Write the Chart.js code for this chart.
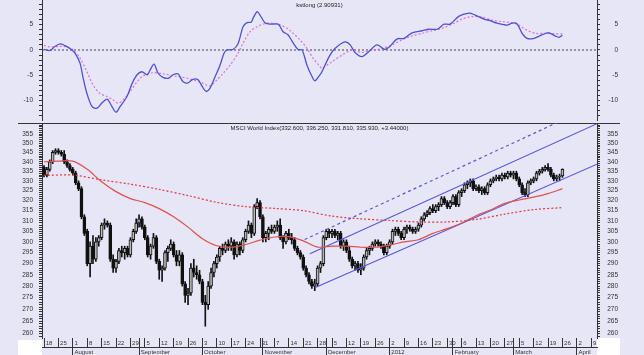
<!DOCTYPE html>
<html>
<head>
<meta charset="utf-8">
<script src="https://cdn.jsdelivr.net/npm/chart.js@4.4.1/dist/chart.umd.min.js"></script>
<style>
  body { margin: 0; background: #e6e6f7; }
  #wrap { position: relative; width: 644px; height: 355px; overflow: hidden; background: #e6e6f7; }
  canvas { position: absolute; left: 0; }
  #sep { position: absolute; left: 18px; top: 123px; width: 602px; height: 0; border-top: 1px solid #333; }
  .wb { position: absolute; background: #fff; }
</style>
</head>
<body>
<div id="wrap">
  <div class="wb" style="left:18px;top:340px;width:24px;height:15px"></div>
  <div class="wb" style="left:597px;top:338px;width:23px;height:17px"></div>
  <div id="sep"></div>
  <canvas id="kst" width="644" height="121" style="top:0"></canvas>
  <canvas id="price" width="644" height="234" style="top:121px"></canvas>
</div>
<script>
// titles
const kstTitle = 'kstlong (2.90931)';
const priceTitle = 'MSCI World Index(332.600, 336.250, 331.810, 335.930, +3.44000)';

// daily candles, index 0 = Mon 18 Jul 2011
const opens = [337,333,336,340,345,346,345,344,340,338, 336,334,329,326,312,305,290,298,292,300,
  302,308,309,308,292,288,291,296,295,297, 294,301,305,309,311,307,302,294,298,302,
  291,287,288,295,297,299,294,291,294,281, 276,277,288,286,285,282,273,272,280,286,
  290,293,297,296,299,298,300,294,299,296, 301,305,308,304,317,319,312,302,304,306,
  305,307,308,302,300,304,302,301,297,295, 293,288,285,282,280,281,288,290,302,305,
  304,305,303,304,298,300,296,292,289,290, 287,288,293,296,297,299,300,299,298,295,
  298,300,305,306,304,302,306,307,306,305, 306,308,311,313,314,316,315,317,318,321,
  319,317,319,322,318,324,325,328,329,330, 326,327,325,326,324,328,330,331,332,331,
  333,332,334,333,334,331,328,324,323,329, 330,331,334,335,336,337,336,333,331,332,
  332.6];
const highs = [338,337,341,346,347,347,346,346,341,339, 337,335,330,327,313,306,300,303,302,303,
  309,311,310,309,294,292,297,298,298,298, 302,306,311,313,312,308,303,299,304,303,
  292,289,296,298,301,300,296,296,295,282, 279,290,292,289,287,283,276,282,288,291,
  294,298,299,300,301,302,301,300,300,302, 306,310,309,318,321,320,313,305,307,308,
  308,310,311,303,305,306,304,302,298,296, 294,289,286,283,283,289,291,303,306,306,
  306,306,305,305,301,301,298,293,291,291, 290,294,297,298,300,301,301,300,299,299,
  301,306,307,307,305,307,308,308,307,307, 309,312,314,315,317,318,318,319,322,322,
  320,320,323,323,325,326,329,330,331,331, 328,328,327,327,329,331,332,333,333,334,
  334,335,335,335,335,332,329,326,330,331, 332,335,336,337,338,339,337,334,333,333.5,
  336.25];
const lows = [332,332,335,339,344,344,343,339,337,335, 333,328,325,311,303,289,284,290,291,298,
  301,306,307,291,286,286,290,293,292,293, 293,300,304,307,306,301,293,292,297,290,
  283,282,287,291,296,293,289,289,280,273, 272,276,284,283,281,272,263,270,279,284,
  288,291,294,295,296,296,292,293,294,295, 300,304,302,303,316,311,300,300,301,304,
  304,305,301,297,299,301,299,296,294,292, 287,284,281,279,278,280,286,289,301,302,
  302,302,301,297,296,295,291,288,287,286, 285,287,292,294,296,298,298,297,294,294,
  297,299,303,303,301,301,304,305,304,304, 305,307,310,312,313,314,314,315,317,318,
  316,316,318,317,317,322,324,326,327,325, 325,324,323,323,323,327,329,330,330,330,
  331,331,332,331,330,327,323,322,322,328, 329,330,333,334,335,335,332,330,330,330,
  331.81];
const closes = [333,336,340,345,346,345,344,340,338,336, 334,329,326,312,304,290,298,292,300,302,
  308,309,308,292,288,291,296,295,297,294, 301,305,309,311,307,302,294,298,302,291,
  287,288,295,297,299,294,291,294,281,276, 277,288,286,285,282,273,272,280,286,290,
  293,297,296,299,298,300,294,299,296,301, 305,308,304,317,319,312,302,304,306,305,
  307,308,302,300,304,302,301,297,295,293, 288,285,282,280,281,288,290,302,305,304,
  305,303,304,298,300,296,292,289,290,287, 288,293,296,297,299,300,299,298,295,298,
  300,305,306,304,302,306,307,306,305,306, 308,311,313,314,316,315,317,318,321,319,
  317,319,322,318,324,325,328,329,330,326, 327,325,326,324,328,330,331,332,331,333,
  332,334,333,334,331,328,324,323,329,330, 331,334,335,336,337,336,333,331,332,332.5,
  335.93];

// moving averages (day index, value)
const fastMaDay = [0,5,10,15,20,25,30,35,40,45,50,55,60,65,70,75,80,85,90,95,100,105,110,115,120,125,130,135,140,145,150,155,160,165,170,175,180];
const fastMa = [340,340.3,340.3,336,329.5,324.5,321,319,316,312,307,301.5,298.2,297.5,298.8,300.8,302.3,302.5,300.5,297.6,298,298,297.5,297.5,298.5,300,301,304,306.3,309,312.5,315.3,318.6,320.3,321.7,323.5,326];
const slowMaDay = [0,10,20,30,40,50,60,70,80,90,100,110,120,130,140,150,160,170,180];
const slowMa = [332.8,333,330.5,328.3,325.6,322.5,319.1,317,316.1,315,312.3,311,310.2,309.5,309.5,310.7,313.3,315.5,316.5];

// trend channel end points (day index, value)
const chanLowDay = [94, 192], chanLow = [279.3, 338.7];
const chanUpDay = [92.3, 192], chanUp = [294.5, 360.8];
const chanOutDay = [90.5, 192], chanOut = [301.1, 372.0];

// kst oscillator and its signal line
const kstDay = [0,2.1,3.8,5.6,7.3,9,10.8,12.5,13.5,14.9,16.7,18.4,20.1,21.9,23.6,25,26.4,28.8,30.6,32.3,
  34,35.8,36.8,38.2,39.6,41.3,43.1,44.8,46.5,48.3,50,51.7,53.5,54.9,56.3,57.6,59.4,61.1,62.5,63.5,
  65.6,67.4,69.1,70.5,71.9,72.6,74,75,76.7,78.5,81.3,83,84.7,86.5,88.2,89.6,91.3,93.1,94.1,95.8,
  96.5,99,101,104.5,106.3,108,110.4,112.8,115.6,118.4,120.1,122.6,125,127.8,131.3,133.7,136.5,138.9,141,144.1,
  147.6,149.7,152.8,154.9,157.3,160.8,162.5,164.2,166,167.7,170.1,172.9,175.3,177.4,178.8,180];
const kst = [0.1,-0.1,0.7,1.2,0.85,0.3,-0.65,-2.6,-5.3,-8.6,-11.2,-11.5,-10.5,-9.7,-11.2,-12.3,-11.2,-9.2,-6.6,-4.9,
  -4.3,-4.9,-4,-2.8,-4.6,-5.4,-5.6,-4.9,-4.7,-6.3,-6.5,-5.8,-5.9,-7.2,-8.2,-7.6,-5.3,-3,-0.65,0,
  0.1,1.3,4.6,5.4,5.5,6.3,7.6,6.9,5.4,5.1,5.1,3.6,3,1.4,0.1,0,-3,-5.3,-6.1,-4.9,
  -4.3,-1.3,0.3,1.6,1,-0.5,-1.3,-0.3,1,0.1,0.7,2.2,2.3,3.4,3.8,4.1,4.1,5.1,5.1,6.7,
  7.3,6.9,6.1,5.8,5.3,4.9,5.3,5.2,3.3,2.3,2.3,3,3.4,2.8,2.5,2.91];
const sigDay = [0,2.1,5.6,8,10.1,12.5,14.9,17,19.4,21.9,24,25.7,27.4,29.9,32.3,34.4,37.8,41.3,44.8,48.3,
  51.7,55.2,57.6,60.1,62.2,64.6,67,69.1,71.5,74,76,78.5,81.3,84.4,86.5,88.9,91.3,93.4,95.8,96.5,
  100,103.5,106.9,110.4,113.9,117.4,120.8,124.3,127.8,131.3,134.7,138.2,141.7,145.1,148.6,152.1,155.6,159,162.5,164.9,
  167,170.5,174,177.4,180];
const sig = [0.9,0.6,0.7,0.6,0,-1.6,-4.3,-6.9,-8.6,-9.2,-9.9,-10.5,-9.9,-8.2,-6.3,-5.1,-4.5,-4.7,-5.1,-5.4,
  -5.9,-6.6,-7.1,-5.9,-4.6,-3,-1,1.3,3.6,4.6,5.1,5.3,5.1,4.3,3.3,2,0.3,-1.6,-3.3,-3.6,
  -2.3,-1,0,-0.5,0,0.3,1,2,2.8,3.3,3.8,4.3,5.1,6.1,6.6,6.5,5.9,5.6,5.4,4.9,
  4.1,3.3,3.3,3.2,3.2];

// axis labels
const kstLabels = [-10, -5, 0, 5];
const pxLabels = [260,265,270,275,280,285,290,295,300,305,310,315,320,325,330,335,340,345,350,355];
const weekLabels = ['18','25','1','8','15','22','29','5','12','19','26','3','10','17','24','31','7','14','21','28',
  '5','12','19','26','2','9','16','23','30','6','13','20','27','5','12','19','26','2','9'];
const monthStart = [10,33,55,76,98,120,142,163,185];
const monthNames = ['August','September','October','November','December','2012','February','March','April'];

const X_MIN = -0.7, X_MAX = 192;
const KST_MIN = -13.84, KST_MAX = 9.88;
const PX_MIN = 258.2, PX_MAX = 361.2;

const FONT = 'Liberation Sans, Arial, sans-serif';
const INK = '#333';

const pts = (xs, ys) => xs.map((x, k) => ({x: x, y: ys[k]}));

const noPad = s => { s.paddingTop = 0; s.paddingBottom = 0; s.paddingLeft = 0; s.paddingRight = 0; };

function yAxis(pos, type, min, max, values, labels) {
  return {
    type: type, position: pos, min: min, max: max, bounds: 'data',
    border: { display: true, color: INK, width: 1 },
    grid: { drawOnChartArea: false, tickLength: 3, tickColor: INK },
    ticks: {
      autoSkip: false, padding: 6, color: INK,
      font: { family: FONT, size: 6.5, lineHeight: 1 },
      crossAlign: pos === 'right' ? 'far' : 'near',
      callback: v => (labels.includes(v) ? String(v) : '')
    },
    afterBuildTicks: s => { s.ticks = values.map(v => ({ value: v })); },
    afterFit: s => { s.width = pos === 'left' ? 42 : 21; noPad(s); }
  };
}

const kstTicks = [];
for (let v = -13; v <= 9; v++) kstTicks.push(v);
const pxTicks = [];
for (let v = 259; v <= 361; v++) pxTicks.push(v);

const weekIdx = weekLabels.map((_, k) => k * 5);
const dayLabel = new Map(weekIdx.map((v, k) => [v, ' ' + weekLabels[k]]));
const dayTicks = Array.from(new Set(weekIdx.concat(monthStart))).sort((a, b) => a - b);
const monthLabel = new Map(monthStart.map((v, k) => [v, ' ' + monthNames[k]]));

const panelTitle = {
  id: 'panelTitle',
  afterDraw(chart, args, opts) {
    const { ctx, chartArea } = chart;
    ctx.save();
    ctx.font = '6px ' + FONT;
    ctx.fillStyle = '#222';
    ctx.textAlign = 'center';
    ctx.textBaseline = 'middle';
    ctx.fillText(opts.text, (chartArea.left + chartArea.right) / 2, chartArea.top + opts.dy);
    ctx.restore();
  }
};

const base = {
  responsive: false, animation: false, devicePixelRatio: 1,
  events: []
};

// upper panel: kst
new Chart(document.getElementById('kst'), {
  type: 'line',
  plugins: [panelTitle],
  data: {
    datasets: [
      { data: pts(kstDay, kst), borderColor: '#5050d2', borderWidth: 1.3, pointRadius: 0, tension: 0.3, order: 1 },
      { data: pts(sigDay, sig), borderColor: '#dc6ce0', borderWidth: 1.2, borderDash: [2, 2], pointRadius: 0, tension: 0.3, order: 2 },
      { data: pts([X_MIN, X_MAX], [0, 0]), borderColor: '#444', borderWidth: 1, borderDash: [2, 2], pointRadius: 0, order: 3 }
    ]
  },
  options: Object.assign({}, base, {
    layout: { padding: { left: 0, right: 26, top: 0, bottom: 1 } },
    plugins: { legend: { display: false }, tooltip: { enabled: false }, panelTitle: { text: kstTitle, dy: 5.5 } },
    scales: {
      x: { type: 'linear', display: false, min: X_MIN, max: X_MAX, bounds: 'data' },
      y: yAxis('left', 'linear', KST_MIN, KST_MAX, kstTicks, kstLabels),
      y2: yAxis('right', 'linear', KST_MIN, KST_MAX, kstTicks, kstLabels)
    }
  })
});

// lower panel: candles, averages, channel
const upFill = '#b8b8b8';
new Chart(document.getElementById('price'), {
  type: 'line',
  plugins: [panelTitle],
  data: {
    datasets: [
      { data: pts(fastMaDay, fastMa), borderColor: '#e0504e', borderWidth: 1.2, pointRadius: 0, tension: 0.3, order: 1 },
      { data: pts(slowMaDay, slowMa), borderColor: '#e03c3c', borderWidth: 1.2, borderDash: [2, 2], pointRadius: 0, tension: 0.3, order: 1 },
      { data: pts(chanLowDay, chanLow), borderColor: '#5656dc', borderWidth: 1.2, pointRadius: 0, order: 1 },
      { data: pts(chanUpDay, chanUp), borderColor: '#5656dc', borderWidth: 1.2, pointRadius: 0, order: 1 },
      { data: pts(chanOutDay, chanOut), borderColor: '#5656dc', borderWidth: 1.2, borderDash: [3, 3], pointRadius: 0, order: 1 },
      {
        type: 'bar', order: 5, grouped: false, barThickness: 3,
        data: closes.map((c, i) => ({ x: i, y: [opens[i], c] })),
        backgroundColor: c => (closes[c.dataIndex] >= opens[c.dataIndex] ? upFill : '#111'),
        borderColor: '#111', borderWidth: 1, borderSkipped: false
      },
      {
        type: 'bar', order: 6, grouped: false, barThickness: 1,
        data: lows.map((l, i) => ({ x: i, y: [l, highs[i]] })),
        backgroundColor: '#111', borderWidth: 0
      }
    ]
  },
  options: Object.assign({}, base, {
    layout: { padding: { left: 0, right: 26, top: 2, bottom: 0 } },
    plugins: { legend: { display: false }, tooltip: { enabled: false }, panelTitle: { text: priceTitle, dy: 5.5 } },
    scales: {
      x: {
        type: 'linear', position: 'bottom', min: X_MIN, max: X_MAX, bounds: 'data', offset: false, weight: 0,
        border: { display: false },
        grid: { drawOnChartArea: false, offset: false, tickLength: 9, tickColor: INK },
        ticks: {
          autoSkip: false, maxRotation: 0, align: 'start', padding: -7, color: INK,
          font: { family: FONT, size: 6, lineHeight: 1 },
          callback: v => dayLabel.get(v) || ''
        },
        afterBuildTicks: s => { s.ticks = dayTicks.map(v => ({ value: v })); },
        afterFit: s => { s.height = 9; noPad(s); }
      },
      x2: {
        type: 'linear', position: 'bottom', min: X_MIN, max: X_MAX, bounds: 'data', offset: false, weight: 1,
        border: { display: true, color: INK, width: 1 },
        grid: { drawOnChartArea: false, offset: false, tickLength: 8, tickColor: INK },
        ticks: {
          autoSkip: false, maxRotation: 0, align: 'start', padding: -6, color: INK,
          font: { family: FONT, size: 6, lineHeight: 1 },
          callback: v => monthLabel.get(v) || ''
        },
        afterBuildTicks: s => { s.ticks = monthStart.map(v => ({ value: v })); },
        afterFit: s => { s.height = 8; noPad(s); }
      },
      y: yAxis('left', 'logarithmic', PX_MIN, PX_MAX, pxTicks, pxLabels),
      y2: yAxis('right', 'logarithmic', PX_MIN, PX_MAX, pxTicks, pxLabels)
    }
  })
});
</script>
</body>
</html>
